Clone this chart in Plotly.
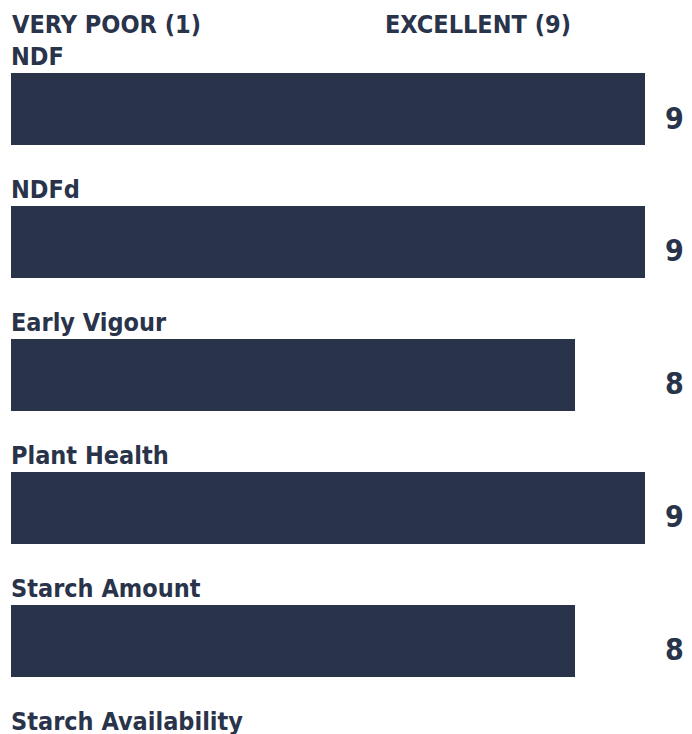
import plotly.graph_objects as go

# ---- data ----
categories = ["NDF", "NDFd", "Early Vigour", "Plant Health", "Starch Amount", "Starch Availability"]
scores = [9, 9, 8, 9, 8, 8]
scale_labels = ["VERY POOR (1)", "EXCELLENT (9)"]

# ---- layout constants (pixels) ----
W, H = 692, 734
X0_PX = 11.0            # pixel of score 0
PX_PER_UNIT = (645.0 - 11.0) / 9.0
ROW0_PX = 109.0         # centre of first bar
ROW_PITCH = 132.9       # pixels between bar centres
BAR_PX = 72.0

COLOR = "#29334a"
FONT = "DejaVu Sans Condensed"
LABEL_SIZE = 25
VALUE_SIZE = 30

rows = list(range(len(categories)))

x_range = [-X0_PX / PX_PER_UNIT, (W - X0_PX) / PX_PER_UNIT]
y_top = -ROW0_PX / ROW_PITCH
y_bottom = (H - ROW0_PX) / ROW_PITCH


def py(px):
    return 1 - px / H


fig = go.Figure(
    go.Bar(
        x=scores,
        y=rows,
        orientation="h",
        width=BAR_PX / ROW_PITCH,
        marker=dict(color=COLOR, line=dict(width=0)),
        hoverinfo="skip",
    )
)

annotations = []
annotations.append(dict(text="<b>%s</b>" % scale_labels[0], xref="paper", yref="paper",
                        x=10 / W, y=py(24.5), xanchor="left", yanchor="middle",
                        showarrow=False, font=dict(family=FONT, size=LABEL_SIZE, color=COLOR)))
annotations.append(dict(text="<b>%s</b>" % scale_labels[1], xref="paper", yref="paper",
                        x=383 / W, y=py(24.5), xanchor="left", yanchor="middle",
                        showarrow=False, font=dict(family=FONT, size=LABEL_SIZE, color=COLOR)))

for r, cat, s in zip(rows, categories, scores):
    centre = ROW0_PX + r * ROW_PITCH
    annotations.append(dict(text="<b>%s</b>" % cat, xref="paper", yref="paper",
                            x=8.5 / W, y=py(centre - 52.5), xanchor="left", yanchor="middle",
                            showarrow=False, font=dict(family=FONT, size=LABEL_SIZE, color=COLOR)))
    if centre + 9 + 20 < H:
        annotations.append(dict(text="<b>%d</b>" % s, xref="paper", yref="paper",
                                x=674.5 / W, y=py(centre + 9), xanchor="center", yanchor="middle",
                                showarrow=False, font=dict(family=FONT, size=VALUE_SIZE, color=COLOR)))

fig.update_layout(
    width=W, height=H,
    margin=dict(l=0, r=0, t=0, b=0, pad=0),
    paper_bgcolor="white", plot_bgcolor="white",
    showlegend=False,
    xaxis=dict(range=x_range, visible=False, fixedrange=True),
    yaxis=dict(range=[y_bottom, y_top], visible=False, fixedrange=True),
    annotations=annotations,
    bargap=0,
)

fig.write_html("out.html", config={"displayModeBar": False, "staticPlot": True})
